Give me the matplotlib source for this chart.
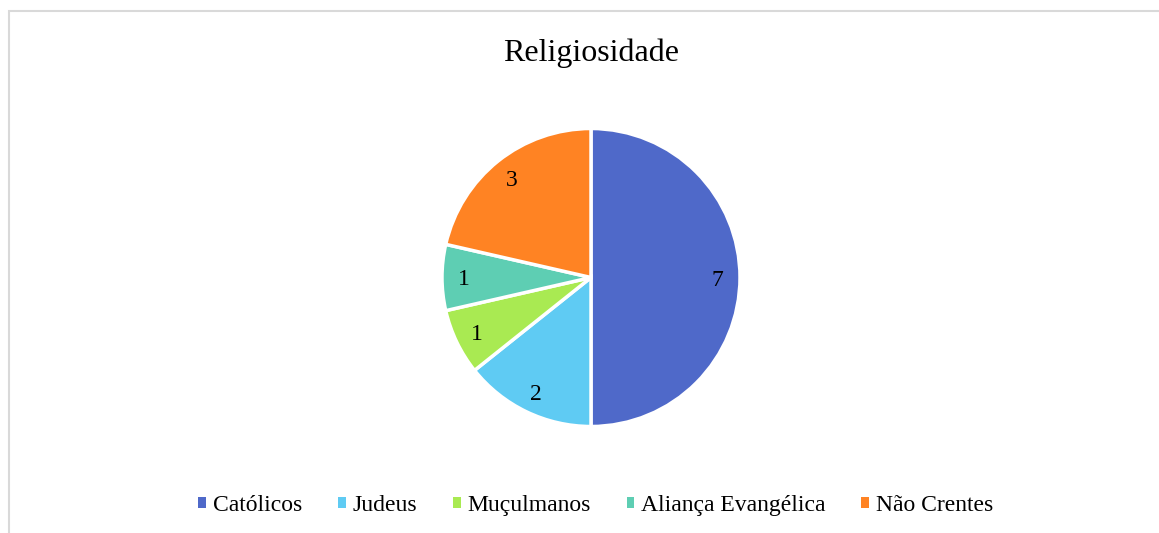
import matplotlib
matplotlib.use("Agg")
import matplotlib.pyplot as plt
from matplotlib.patches import Rectangle, Patch

categories = ["Católicos", "Judeus", "Muçulmanos", "Aliança Evangélica", "Não Crentes"]
values = [7, 2, 1, 1, 3]
colors = ["#4F69C9", "#5FCBF3", "#A9EA52", "#5ECEB3", "#FF8323"]
title = "Religiosidade"

plt.rcParams['font.family'] = ['Liberation Serif', 'DejaVu Serif']

W, H = 1159, 533
fig = plt.figure(figsize=(W / 100, H / 100), dpi=100)

# chart border
fig.patches.append(Rectangle((8.5 / W, -0.1), 2, (H - 11.5) / H + 0.1,
                             transform=fig.transFigure, fill=False,
                             edgecolor="#d9d9d9", lw=1.5))

cx, cy, r = 591, H - 277.5, 149
ax = fig.add_axes([(cx - r) / W, (cy - r) / H, 2 * r / W, 2 * r / H])
wedges, texts = ax.pie(values, colors=colors, startangle=90, counterclock=False,
                       labels=[str(v) for v in values], labeldistance=0.85,
                       wedgeprops=dict(edgecolor="white", linewidth=2.5),
                       textprops=dict(fontsize=17, color="black"))
for t in texts:
    t.set_ha("center")
    t.set_va("center_baseline")
ax.set_xlim(-1, 1)
ax.set_ylim(-1, 1)
ax.set_aspect("equal")
ax.axis("off")

fig.text(591 / W, 1 - 53.5 / H, title, ha="center", va="center", fontsize=23)

handles = [Patch(facecolor=c, edgecolor="none") for c in colors]
fig.legend(handles, categories, loc="center", bbox_to_anchor=(596 / W, 1 - 505.5 / H),
           ncol=5, frameon=False, fontsize=17, handlelength=0.33, handleheight=0.33,
           handletextpad=0.3, columnspacing=1.5)

fig.savefig("out.png", dpi=100)
